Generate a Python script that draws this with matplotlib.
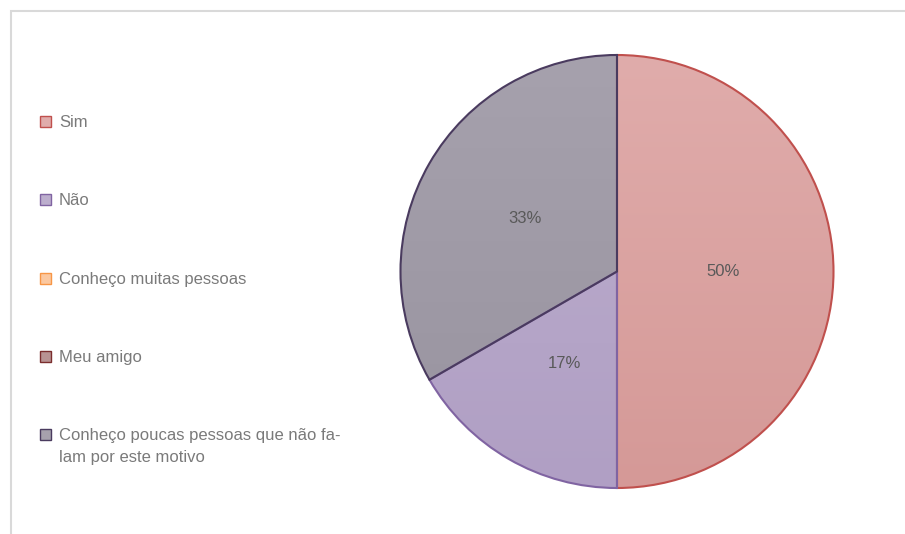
import numpy as np
import matplotlib.pyplot as plt
from matplotlib.patches import Rectangle
from matplotlib import font_manager

labels = ['Sim', 'Não', 'Conheço muitas pessoas', 'Meu amigo',
          'Conheço poucas pessoas que não fa-\nlam por este motivo']
values = [3, 1, 0, 0, 2]
fills_top = ['#e0acab', '#bcaecd', '#fbc8a0', '#b89393', '#a6a1ad']
fills_bot = ['#d59997', '#b09fc4', '#f7b98a', '#ad8585', '#98939f']
edges = ['#c0504d', '#8064a2', '#f79646', '#7b2e2e', '#4a3b5f']

names = {f.name for f in font_manager.fontManager.ttflist}
fam = 'Liberation Sans Narrow' if 'Liberation Sans Narrow' in names else 'Liberation Sans'
plt.rcParams['font.family'] = [fam, 'DejaVu Sans']

W, H = 905, 534
fig = plt.figure(figsize=(W / 100, H / 100), dpi=100)

def fx(x):
    return x / W

def fy(y):
    return 1 - y / H

# outer frame (top and left edges visible)
fig.patches.append(Rectangle((fx(11), fy(600)), fx(1000), fy(11) - fy(600),
                             transform=fig.transFigure, fill=False,
                             edgecolor='#d9d9d9', linewidth=1.5))

# pie
cx, cy, r = 617, 271.5, 216.5
lim = 1.02
side = 2 * lim * r
ax = fig.add_axes([fx(cx - side / 2), fy(cy + side / 2), side / W, side / H])

idx = [i for i, v in enumerate(values) if v > 0]
vals = [values[i] for i in idx]
wedges, _, autotexts = ax.pie(vals, startangle=90, counterclock=False,
                              autopct='%1.0f%%', pctdistance=0.49,
                              wedgeprops=dict(linewidth=1.5),
                              textprops=dict(color='#595959', fontsize=12))
grad = np.linspace(0, 1, 256).reshape(-1, 1)
for w, i in zip(wedges, idx):
    c0 = np.array(plt.matplotlib.colors.to_rgb(fills_top[i]))
    c1 = np.array(plt.matplotlib.colors.to_rgb(fills_bot[i]))
    img = c0[None, None, :] * (1 - grad[:, :, None]) + c1[None, None, :] * grad[:, :, None]
    im = ax.imshow(img, extent=(-1, 1, -1, 1), origin='upper', aspect='auto', zorder=1)
    im.set_clip_path(w)
    w.set_facecolor('none')
    w.set_edgecolor(edges[i])
    w.set_zorder(2)
for t in autotexts:
    t.set_zorder(3)
ax.set_xlim(-lim, lim)
ax.set_ylim(-lim, lim)
ax.set_aspect('equal')
ax.axis('off')

# legend
for k, lab in enumerate(labels):
    yc = 121.5 + 78.3 * k
    fig.patches.append(Rectangle((fx(39.5), fy(yc + 5.5)), 11 / W, 11 / H,
                                 transform=fig.transFigure,
                                 facecolor=fills_top[k], edgecolor=edges[k], linewidth=1))
    fig.text(fx(59), fy(yc - 6.5), lab, ha='left', va='top', fontsize=12,
             color='#7a7a7a', linespacing=1.55)

fig.savefig('out.png', dpi=100)
